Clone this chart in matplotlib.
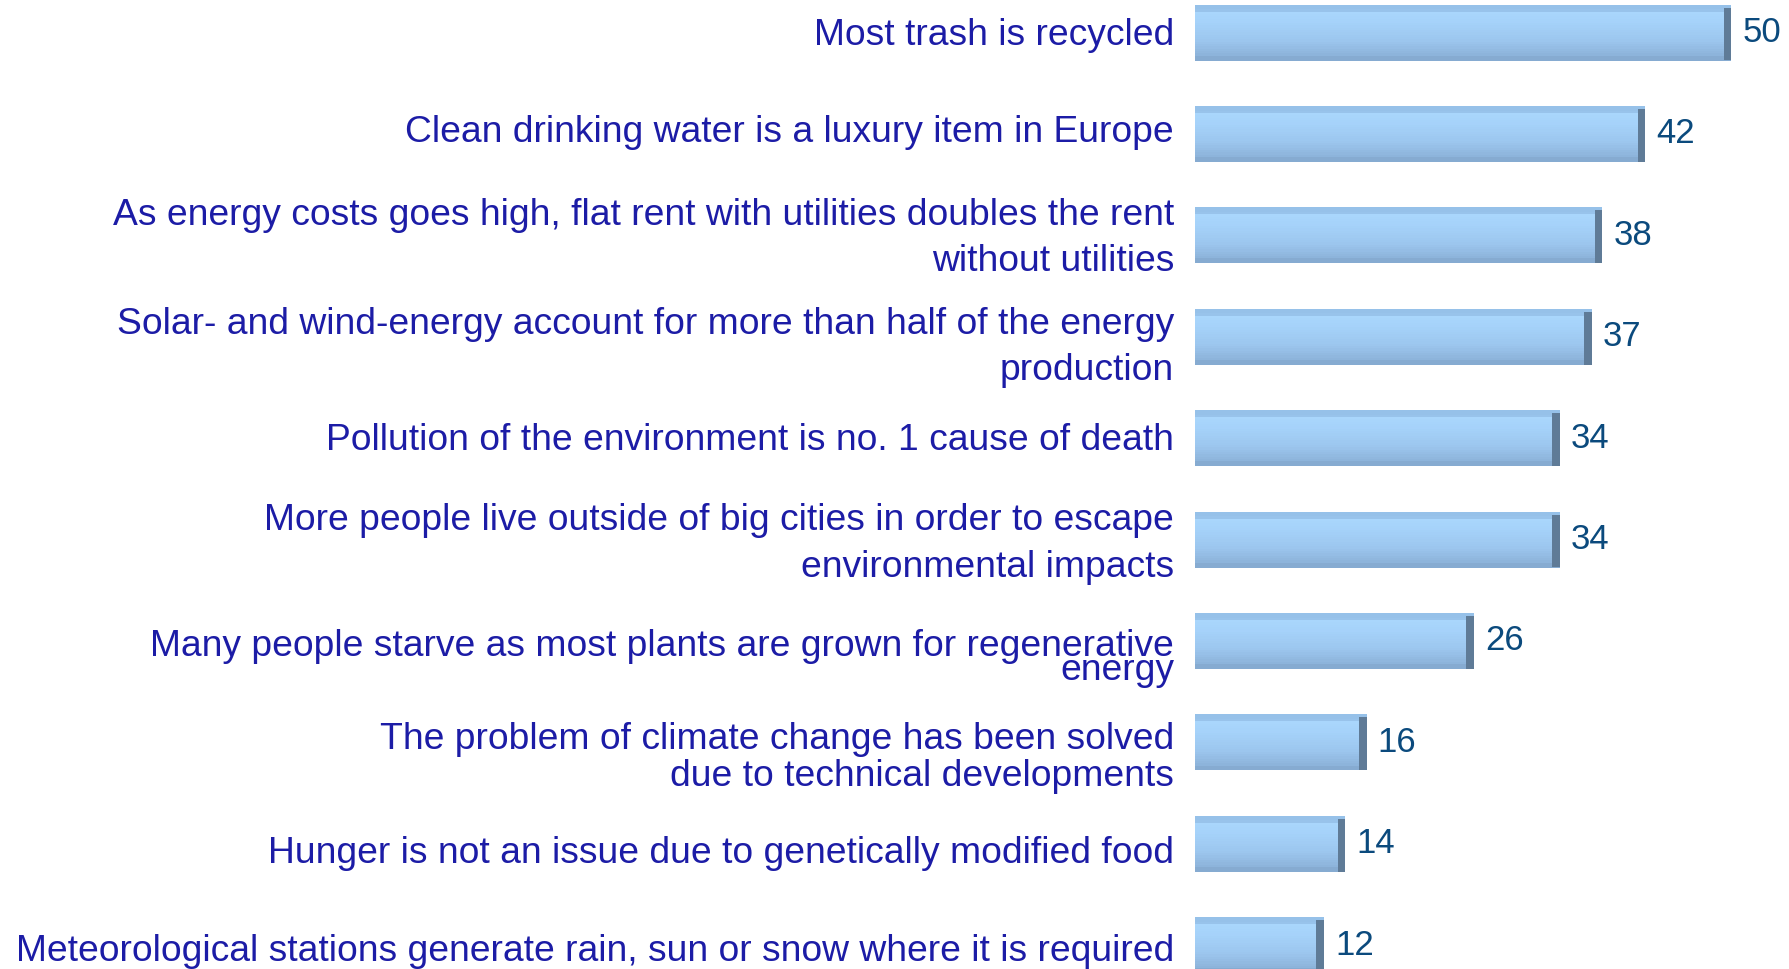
import numpy as np
import matplotlib.pyplot as plt
from matplotlib.colors import LinearSegmentedColormap

labels = [
    "Most trash is recycled",
    "Clean drinking water is a luxury item in Europe",
    "As energy costs goes high, flat rent with utilities doubles the rent\nwithout utilities",
    "Solar- and wind-energy account for more than half of the energy\nproduction",
    "Pollution of the environment is no. 1 cause of death",
    "More people live outside of big cities in order to escape\nenvironmental impacts",
    "Many people starve as most plants are grown for regenerative\nenergy",
    "The problem of climate change has been solved\ndue to technical developments",
    "Hunger is not an issue due to genetically modified food",
    "Meteorological stations generate rain, sun or snow where it is required",
]
values = [50, 42, 38, 37, 34, 34, 26, 16, 14, 12]

# per-label line spacing / vertical nudge (the source had uneven wrapping)
line_sp = [1.0, 1.0, 1.41, 1.41, 1.0, 1.41, 0.6, 1.07, 1.0, 1.0]
nudge = [0.034, -0.016, 0.028, 0.105, 0.022, 0.045, 0.17, 0.156, 0.095, 0.064]

plt.rcParams['font.family'] = ['Liberation Sans', 'DejaVu Sans']

fig = plt.figure(figsize=(17.89, 9.69), dpi=100)
ax = fig.add_axes([1195 / 1789, 0, 1 - 1195 / 1789, 1])
ax.set_xlim(0, 55.4)
ax.set_ylim(9.236, -0.32)
ax.axis('off')

y = np.arange(len(values))
h = 0.55

# stripes from top to bottom of a bar, fake 3d shading
grad = LinearSegmentedColormap.from_list(
    'g', [(0, '#96c1e9'), (0.1, '#96c1e9'), (0.12, '#a9d6fc'), (0.3, '#a6d3fa'),
          (0.65, '#9cc6ee'), (0.9, '#8db4db'), (0.92, '#86abd1'), (1, '#86abd1')])
n = 24
for k in range(n):
    frac = (k + 0.5) / n
    ax.barh(y - h / 2 + k * h / n, values, height=h / n + 0.002, align='edge',
            color=grad(frac), linewidth=0)

# darker end cap
cap = 0.7
ax.barh(y - h / 2 + 0.03, [cap] * len(values), left=np.array(values) - cap,
        height=h - 0.03, align='edge', color='#5f7b97', linewidth=0)

for i, (lab, v) in enumerate(zip(labels, values)):
    ax.text(-1.95, i + nudge[i], lab, ha='right', va='center', fontsize=26.8,
            color='#1c1ca6', linespacing=line_sp[i], clip_on=False)
    ax.text(v + 1.05, i, str(v), ha='left', va='center', fontsize=25,
            color='#0b4a7d')

fig.savefig('out.png', dpi=100)
